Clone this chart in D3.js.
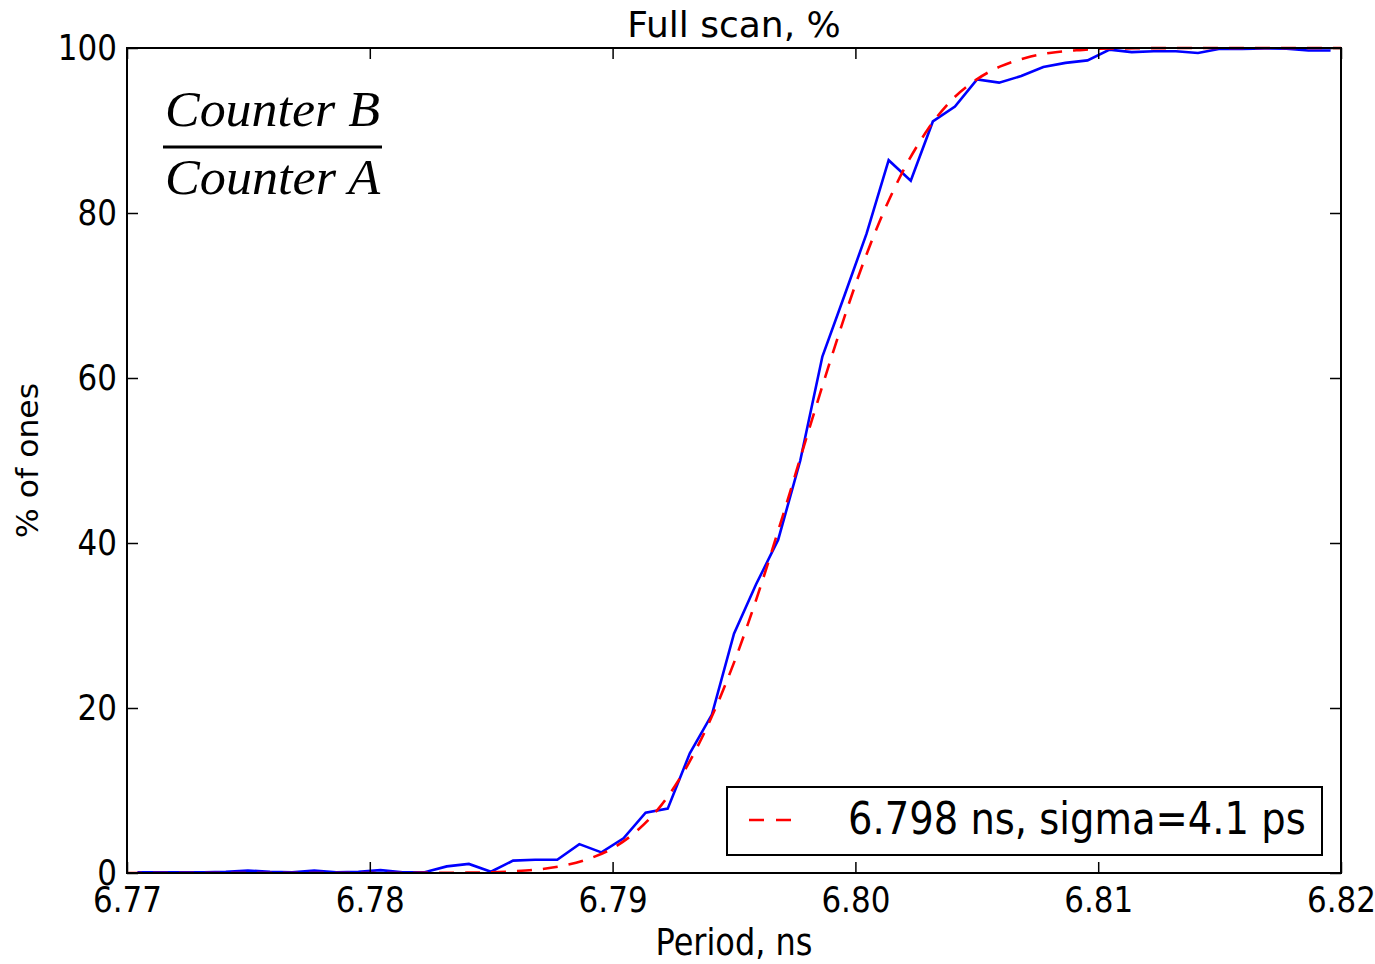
<!DOCTYPE html>
<html>
<head>
<meta charset="utf-8">
<script src="https://cdn.jsdelivr.net/npm/d3@7"></script>
<style>
body { margin: 0; background: #fff; }
text { font-family: "DejaVu Sans", sans-serif; fill: #000; }
</style>
</head>
<body>
<div id="chart"></div>
<script>
// measured scan (blue)
var periods = [6.77043, 6.77134, 6.77225, 6.77316, 6.77407, 6.77498, 6.77589, 6.77680, 6.77771, 6.77862,
               6.77953, 6.78044, 6.78135, 6.78226, 6.78317, 6.78408, 6.78499, 6.78590, 6.78681, 6.78772,
               6.78863, 6.78954, 6.79045, 6.79136, 6.79227, 6.79318, 6.79409, 6.79500, 6.79591, 6.79682,
               6.79773, 6.79864, 6.79955, 6.80046, 6.80137, 6.80228, 6.80319, 6.80410, 6.80501, 6.80592,
               6.80683, 6.80774, 6.80865, 6.80956, 6.81047, 6.81138, 6.81229, 6.81320, 6.81411, 6.81502,
               6.81593, 6.81684, 6.81775, 6.81866, 6.81957];
var ones = [0.1, 0.1, 0.1, 0.1, 0.15, 0.3, 0.15, 0.1, 0.3, 0.1,
            0.15, 0.35, 0.1, 0.1, 0.8, 1.1, 0.15, 1.5, 1.6, 1.6,
            3.5, 2.5, 4.2, 7.3, 7.8, 14.5, 19.2, 29.0, 35.0, 40.4,
            50.0, 62.6, 70.0, 77.5, 86.4, 83.9, 91.1, 92.9, 96.2, 95.8,
            96.6, 97.7, 98.2, 98.5, 99.8, 99.5, 99.6, 99.6, 99.4, 99.9,
            99.9, 99.95, 99.9, 99.7, 99.7];

// fitted curve (red dashed)
var fitPeriods = [6.770, 6.775, 6.780, 6.782, 6.784, 6.786, 6.787, 6.788, 6.789, 6.790, 6.791,
                  6.792, 6.793, 6.794, 6.795, 6.796, 6.797, 6.798, 6.799, 6.800, 6.801, 6.802,
                  6.803, 6.804, 6.805, 6.806, 6.807, 6.808, 6.809, 6.810, 6.812, 6.815, 6.820];
var fitOnes = [0, 0, 0, 0.01, 0.04, 0.22, 0.45, 0.9, 1.7, 3.0, 5.1,
               8.2, 12.6, 18.4, 25.5, 33.9, 43.2, 52.9, 62.4, 71.3, 79.0, 85.3,
               90.2, 93.8, 96.2, 97.8, 98.8, 99.4, 99.7, 99.9, 99.98, 100, 100];

var xTicks = [6.77, 6.78, 6.79, 6.80, 6.81, 6.82];
var yTicks = [0, 20, 40, 60, 80, 100];
var titleText = "Full scan, %";
var xLabel = "Period, ns";
var yLabel = "% of ones";
var legendLabel = "6.798 ns, sigma=4.1 ps";

var W = 1375, H = 964;
var pL = 127, pR = 1341, pT = 48, pB = 873;
var sy = 1.15; // glyphs in the picture are a bit taller than wide

var svg = d3.select("#chart").append("svg").attr("width", W).attr("height", H);
svg.append("rect").attr("width", W).attr("height", H).attr("fill", "#fff");

var x = d3.scaleLinear().domain([6.77, 6.82]).range([pL, pR]);
var y = d3.scaleLinear().domain([0, 100]).range([pB, pT]);

svg.append("clipPath").attr("id", "clip")
  .append("rect").attr("x", pL).attr("y", pT - 2).attr("width", pR - pL).attr("height", pB - pT + 2);

var line = d3.line().x(function(d) { return x(d[0]); }).y(function(d) { return y(d[1]); });

var meas = periods.map(function(p, i) { return [p, ones[i]]; });
var fit = fitPeriods.map(function(p, i) { return [p, fitOnes[i]]; });

svg.append("path").datum(meas)
  .attr("clip-path", "url(#clip)")
  .attr("d", line)
  .attr("fill", "none").attr("stroke", "#0000ff").attr("stroke-width", 2.6)
  .attr("stroke-linejoin", "miter");

svg.append("path").datum(fit)
  .attr("clip-path", "url(#clip)")
  .attr("d", line.curve(d3.curveMonotoneX))
  .attr("fill", "none").attr("stroke", "#ff0000").attr("stroke-width", 2.6)
  .attr("stroke-dasharray", "15,11");

// axes, ticks pointing inward on all four sides
function styleAxis(g) {
  g.select(".domain").remove();
  g.selectAll(".tick line").attr("stroke", "#000").attr("stroke-width", 1.5);
}

var gx = svg.append("g").attr("transform", "translate(0," + pB + ")")
  .call(d3.axisBottom(x).tickValues(xTicks).tickFormat(d3.format(".2f")).tickSizeInner(-11).tickSizeOuter(0));
styleAxis(gx);
gx.selectAll(".tick text")
  .attr("y", null).attr("dy", null)
  .attr("transform", "translate(0,39) scale(1," + sy + ")")
  .style("font-size", "31px").style("font-family", "DejaVu Sans");

var gxt = svg.append("g").attr("transform", "translate(0," + pT + ")")
  .call(d3.axisTop(x).tickValues(xTicks).tickFormat("").tickSizeInner(-11).tickSizeOuter(0));
styleAxis(gxt);

var gy = svg.append("g").attr("transform", "translate(" + pL + ",0)")
  .call(d3.axisLeft(y).tickValues(yTicks).tickSizeInner(-11).tickSizeOuter(0));
styleAxis(gy);
gy.selectAll(".tick text")
  .attr("x", null).attr("dy", "0.31em")
  .attr("text-anchor", "end")
  .attr("transform", "translate(-10,0) scale(1," + sy + ")")
  .style("font-size", "31px").style("font-family", "DejaVu Sans");

var gyr = svg.append("g").attr("transform", "translate(" + pR + ",0)")
  .call(d3.axisRight(y).tickValues(yTicks).tickFormat("").tickSizeInner(-11).tickSizeOuter(0));
styleAxis(gyr);

svg.append("rect")
  .attr("x", pL).attr("y", pT).attr("width", pR - pL).attr("height", pB - pT)
  .attr("fill", "none").attr("stroke", "#000").attr("stroke-width", 2);

// titles
svg.append("text").text(titleText)
  .attr("text-anchor", "middle")
  .attr("x", (pL + pR) / 2).attr("y", 37)
  .style("font-size", "36px");

svg.append("text").text(xLabel)
  .attr("text-anchor", "middle")
  .attr("transform", "translate(" + ((pL + pR) / 2) + ",955) scale(1," + sy + ")")
  .style("font-size", "32px");

svg.append("text").text(yLabel)
  .attr("text-anchor", "middle")
  .attr("transform", "translate(38," + ((pT + pB) / 2) + ") rotate(-90) scale(1.05,1)")
  .style("font-size", "30px");

// Counter B / Counter A
var frac = svg.append("g");
frac.append("text").text("Counter B")
  .attr("x", 165).attr("y", 126)
  .attr("textLength", 215).attr("lengthAdjust", "spacingAndGlyphs")
  .style("font-family", "Liberation Serif").style("font-style", "italic").style("font-size", "50px");
frac.append("line")
  .attr("x1", 163).attr("x2", 382).attr("y1", 147).attr("y2", 147)
  .attr("stroke", "#000").attr("stroke-width", 3);
frac.append("text").text("Counter A")
  .attr("x", 165).attr("y", 194)
  .attr("textLength", 215).attr("lengthAdjust", "spacingAndGlyphs")
  .style("font-family", "Liberation Serif").style("font-style", "italic").style("font-size", "50px");

// legend
var lg = svg.append("g");
lg.append("rect")
  .attr("x", 727).attr("y", 787).attr("width", 595).attr("height", 68)
  .attr("fill", "#fff").attr("stroke", "#000").attr("stroke-width", 2);
lg.append("line")
  .attr("x1", 749).attr("x2", 791).attr("y1", 820).attr("y2", 820)
  .attr("stroke", "#ff0000").attr("stroke-width", 2.6).attr("stroke-dasharray", "15,12");
lg.append("text").text(legendLabel)
  .attr("transform", "translate(848,834) scale(1," + sy + ")")
  .style("font-size", "38.5px");
</script>
</body>
</html>
